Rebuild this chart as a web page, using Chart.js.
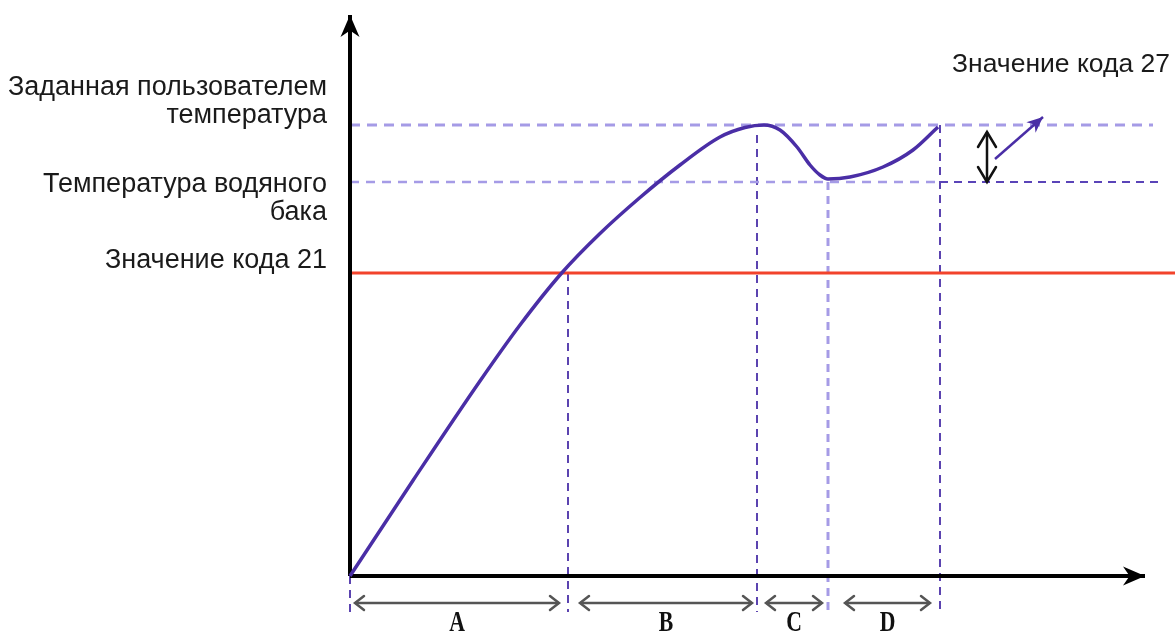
<!DOCTYPE html>
<html>
<head>
<meta charset="utf-8">
<script src="https://cdn.jsdelivr.net/npm/chart.js@4/dist/chart.umd.min.js"></script>
<style>
  html, body { margin: 0; padding: 0; background: #fff; }
  canvas { display: block; }
</style>
</head>
<body>
<canvas id="c" width="1175" height="634"></canvas>
<script>
// ---- data (time on x, temperature on y, arbitrary units) ----
const curveX = [0, 6.33, 13, 17, 21.17, 25, 29, 33, 37, 39.5, 41.4, 43.0, 44.7, 46.0, 47.0, 47.8, 50.0, 53.3, 56.3, 58.8];
const curveY = [0, 9.6, 19.5, 25.1, 30.3, 34.25, 37.85, 41.1, 43.9, 44.85, 45.1, 44.6, 42.9, 41.1, 40.1, 39.7, 39.9, 40.9, 42.6, 44.9];

const setpoint = 45.1;   // Заданная пользователем температура
const tankTemp = 39.4;   // Температура водяного бака
const code21   = 30.3;   // Значение кода 21

const phaseNames = ['A', 'B', 'C', 'D'];
const phaseEdges = [0, 21.8, 40.7, 47.8, 59.0];
const spanStart  = [0.5, 23.0, 41.6, 49.5];
const spanEnd    = [20.9, 40.2, 47.2, 58.0];

const xAxisEnd = 79.5;
const yAxisEnd = 56.1;
const lineEnd  = 82.5;
const dashEnd  = 80.3;
const spanY    = -2.7;
const guideBottom = -3.6;

// hysteresis arrow (code 27) and pointer arrow
const hystX = 63.7;
const pointerX = [64.5, 69.3];
const pointerY = [41.7, 45.9];

const leftLabels = [
  { text: 'Заданная пользователем', ref: setpoint, dy: -30 },
  { text: 'температура',            ref: setpoint, dy: -2 },
  { text: 'Температура водяного',   ref: tankTemp, dy: 10 },
  { text: 'бака',                   ref: tankTemp, dy: 38 },
  { text: 'Значение кода 21',       ref: code21,   dy: -5 }
];
const rightLabel = 'Значение кода 27';

// ---- helpers ----
const pts = (xs, ys) => xs.map((x, i) => ({ x, y: ys[i] }));
const GAP = { x: 0, y: null };

function segs(list) {
  const out = [];
  list.forEach((s, i) => { if (i) out.push(GAP); out.push(...s); });
  return out;
}

const darkGuides = segs([
  [{ x: 0, y: 0 }, { x: 0, y: guideBottom }],
  [{ x: phaseEdges[1], y: code21 }, { x: phaseEdges[1], y: guideBottom }],
  [{ x: phaseEdges[2], y: setpoint - 1 }, { x: phaseEdges[2], y: guideBottom }],
  [{ x: phaseEdges[4], y: setpoint }, { x: phaseEdges[4], y: guideBottom }]
]);
const lightGuides = segs([
  [{ x: phaseEdges[3], y: tankTemp }, { x: phaseEdges[3], y: guideBottom }]
]);
const spans = segs(spanStart.map((s, i) => [{ x: s, y: spanY }, { x: spanEnd[i], y: spanY }]));

function drawHead(ctx, from, tip, ds) {
  const a = Math.atan2(tip.y - from.y, tip.x - from.x);
  const L = ds.headLen, W = ds.headWidth;
  const ca = Math.cos(a), sa = Math.sin(a);
  const p = (along, perp) => [tip.x + along * ca - perp * sa, tip.y + along * sa + perp * ca];
  ctx.save();
  if (ds.headFill) {
    ctx.fillStyle = ds.borderColor;
    ctx.beginPath();
    ctx.moveTo(tip.x, tip.y);
    ctx.lineTo(...p(-L, W));
    ctx.lineTo(...p(-L * 0.7, 0));
    ctx.lineTo(...p(-L, -W));
    ctx.closePath();
    ctx.fill();
  } else {
    ctx.strokeStyle = ds.borderColor;
    ctx.lineWidth = ds.borderWidth;
    ctx.lineCap = 'round';
    ctx.beginPath();
    ctx.moveTo(...p(-L, W));
    ctx.lineTo(tip.x, tip.y);
    ctx.lineTo(...p(-L, -W));
    ctx.stroke();
  }
  ctx.restore();
}

const arrowPlugin = {
  id: 'arrows',
  afterDatasetsDraw(chart) {
    const ctx = chart.ctx;
    chart.data.datasets.forEach((ds, i) => {
      if (!ds.heads) return;
      const el = chart.getDatasetMeta(i).data;
      const groups = [];
      let g = [];
      ds.data.forEach((d, j) => {
        if (d.y === null) { if (g.length) groups.push(g); g = []; }
        else g.push(el[j]);
      });
      if (g.length) groups.push(g);
      groups.forEach(s => {
        if (ds.heads === 'both') drawHead(ctx, s[1], s[0], ds);
        drawHead(ctx, s[s.length - 2], s[s.length - 1], ds);
      });
    });
  }
};

const textPlugin = {
  id: 'texts',
  afterDraw(chart) {
    const ctx = chart.ctx;
    const xs = chart.scales.x, ys = chart.scales.y;
    ctx.save();
    ctx.fillStyle = '#1a1a1a';
    ctx.font = '27px "Liberation Sans", Arial, sans-serif';
    ctx.textBaseline = 'alphabetic';
    ctx.textAlign = 'right';
    const lx = xs.getPixelForValue(0) - 23;
    leftLabels.forEach(l => ctx.fillText(l.text, lx, ys.getPixelForValue(l.ref) + l.dy));
    ctx.font = '26.5px "Liberation Sans", Arial, sans-serif';
    ctx.fillText(rightLabel, xs.getPixelForValue(lineEnd) - 5, ys.getPixelForValue(setpoint) - 53);

    ctx.fillStyle = '#111';
    ctx.font = 'bold 29px "Liberation Serif", "DejaVu Serif", serif';
    ctx.textAlign = 'center';
    const by = ys.getPixelForValue(0) + 55;
    phaseNames.forEach((n, i) => {
      const cx = xs.getPixelForValue((spanStart[i] + spanEnd[i]) / 2);
      ctx.save();
      ctx.translate(cx, by);
      ctx.scale(0.75, 1);
      ctx.fillText(n, 0, 0);
      ctx.restore();
    });
    ctx.restore();
  }
};

const PURPLE = '#4a2ea6';
const LIGHT = '#a59be6';

new Chart(document.getElementById('c'), {
  type: 'line',
  data: {
    datasets: [
      { data: pts(curveX, curveY), borderColor: PURPLE, borderWidth: 3.5, cubicInterpolationMode: 'monotone', order: 0 },
      { data: [{ x: 0, y: 0 }, { x: xAxisEnd, y: 0 }], borderColor: '#000', borderWidth: 4, heads: 'end', headFill: true, headLen: 22, headWidth: 9.5, order: 1 },
      { data: [{ x: 0, y: 0 }, { x: 0, y: yAxisEnd }], borderColor: '#000', borderWidth: 4, heads: 'end', headFill: true, headLen: 22, headWidth: 9.5, order: 1 },
      { data: [{ x: 0, y: code21 }, { x: lineEnd, y: code21 }], borderColor: '#f2432b', borderWidth: 3, order: 2 },
      { data: [{ x: 0, y: setpoint }, { x: dashEnd, y: setpoint }], borderColor: LIGHT, borderWidth: 3, borderDash: [10, 7], order: 3 },
      { data: [{ x: 0, y: tankTemp }, { x: phaseEdges[4], y: tankTemp }], borderColor: LIGHT, borderWidth: 2.5, borderDash: [9, 7], order: 3 },
      { data: [{ x: phaseEdges[4], y: tankTemp }, { x: dashEnd + 0.7, y: tankTemp }], borderColor: '#5a44b8', borderWidth: 2, borderDash: [8, 6], order: 3 },
      { data: darkGuides, borderColor: '#4a30a8', borderWidth: 1.8, borderDash: [8, 6], order: 4 },
      { data: lightGuides, borderColor: LIGHT, borderWidth: 3, borderDash: [8, 6], order: 4 },
      { data: spans, borderColor: '#555', borderWidth: 2.5, heads: 'both', headLen: 9, headWidth: 7, order: 1 },
      { data: [{ x: hystX, y: setpoint - 0.7 }, { x: hystX, y: tankTemp }], borderColor: '#111', borderWidth: 2.5, heads: 'both', headLen: 15, headWidth: 9, order: 1 },
      { data: pts(pointerX, pointerY), borderColor: PURPLE, borderWidth: 2.5, heads: 'end', headFill: true, headLen: 16, headWidth: 7, order: 1 }
    ]
  },
  options: {
    responsive: false,
    animation: false,
    layout: { padding: 0 },
    elements: { point: { radius: 0, hoverRadius: 0 }, line: { fill: false } },
    plugins: { legend: { display: false }, tooltip: { enabled: false } },
    scales: {
      x: { type: 'linear', min: -35, max: 82.5, display: false },
      y: { type: 'linear', min: -5.8, max: 57.6, display: false }
    }
  },
  plugins: [arrowPlugin, textPlugin]
});
</script>
</body>
</html>
